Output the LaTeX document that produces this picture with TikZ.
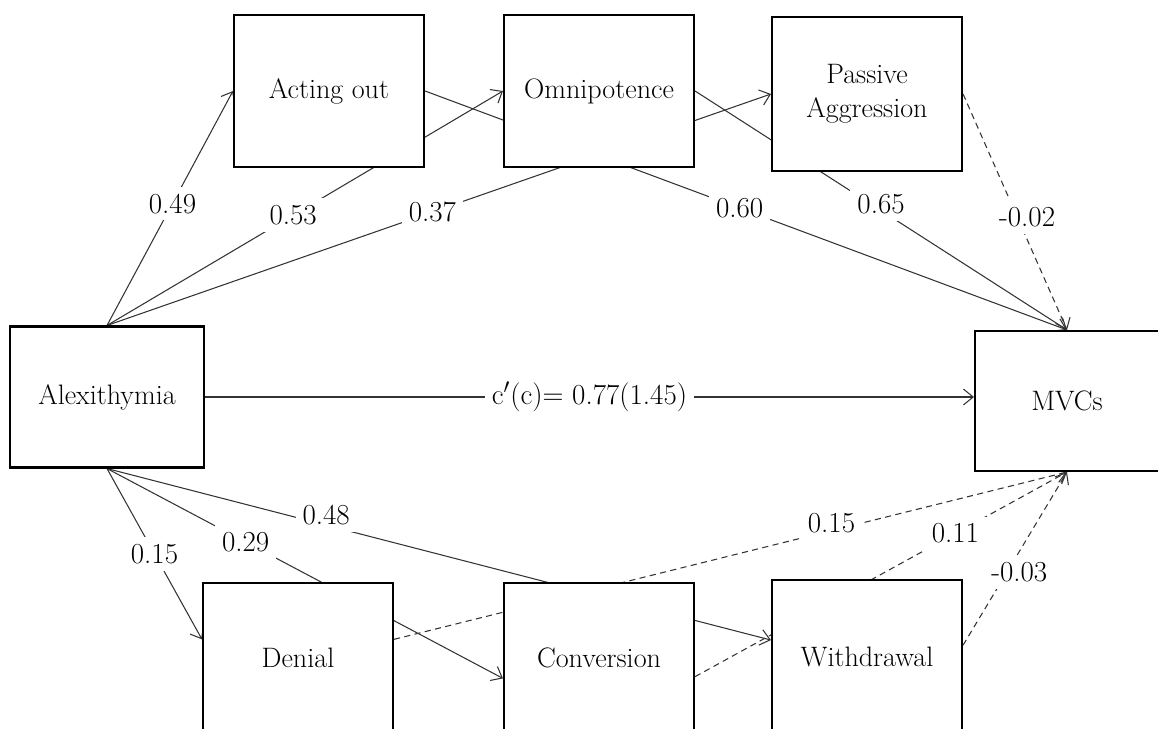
\documentclass[tikz,border=0pt]{standalone}
\usepackage{tikz}
\usetikzlibrary{calc, arrows.meta, backgrounds}

\begin{document}
\begin{tikzpicture}[x=0.02cm, y=-0.02cm,
        box/.style={rectangle, draw=black, line width=1.2pt, fill=white, align=center,
            minimum width=3.8cm, minimum height=3.04cm,
            font=\fontsize{16}{19.5}\selectfont},
        effect/.style={draw=black!80, line width=0.6pt, -{Straight Barb[length=5.5pt,width=9pt]}},
        nseffect/.style={effect, dash pattern=on 3.5pt off 2.5pt},
        coef/.style={fill=white, inner sep=4pt, font=\fontsize{16.5}{19}\selectfont}]

        \useasboundingbox (0,0) rectangle (1158,729);

        %% Defence mechanisms, top row
        \node (act) [box] at (329,91) {Acting out};
        \node (omni) [box] at (599,91) {Omnipotence};
        \node (pass) [box, minimum height=3.08cm] at (867,94) {Passive\\Aggression};

        %% Predictor and outcome
        \node (alex) [box, minimum width=3.88cm, minimum height=2.82cm] at (107,397) {Alexithymia};
        \node (mvc) [box, minimum width=3.68cm, minimum height=2.8cm] at (1067,401) {MVCs};

        %% Defence mechanisms, bottom row
        \node (den) [box, minimum height=3cm] at (298,658) {Denial};
        \node (conv) [box, minimum height=3cm] at (599,658) {Conversion};
        \node (wd) [box, minimum height=3.08cm] at (867,657) {Withdrawal};

        \begin{scope}[on background layer]
            %% Paths from Alexithymia, top
            \draw [effect] (alex.north) -- node [coef, pos=0.52] {0.49} (act.west);
            \draw [effect] (alex.north) -- node [coef, pos=0.47] {0.53} (omni.west);
            \draw [effect] (alex.north) -- node [coef, pos=0.49] {0.37} (pass.west);

            %% Paths to MVCs, top
            \draw [effect] (act.east) -- node [coef, pos=0.49] {0.60} (mvc.north);
            \draw [effect] (omni.east) -- node [coef, pos=0.5, yshift=0.12cm] {0.65} (mvc.north);
            \draw [nseffect] (pass.east) -- node [coef, pos=0.52, xshift=0.2cm] {-0.02} (mvc.north);

            %% Direct effect
            \draw [effect] (alex.east) -- node [coef] {c$'$(c)= 0.77(1.45)} (alex.east -| mvc.west);

            %% Paths from Alexithymia, bottom
            \draw [effect] (alex.south) -- node [coef, pos=0.5] {0.15} (den.169);
            \draw [effect] (alex.south) -- node [coef, pos=0.35] {0.29} (conv.192);
            \draw [effect] (alex.south) -- node [coef, pos=0.33, yshift=0.2cm] {0.48} (wd.170);

            %% Paths to MVCs, bottom
            \draw [nseffect] (den.11) -- node [coef, pos=0.65, yshift=0.15cm] {0.15} (mvc.south);
            \draw [nseffect] (conv.-11) -- node [coef, pos=0.7] {0.11} (mvc.south);
            \draw [nseffect] (wd.7) -- node [coef, pos=0.42, xshift=0.25cm] {-0.03} (mvc.south);
        \end{scope}

\end{tikzpicture}
\end{document}
